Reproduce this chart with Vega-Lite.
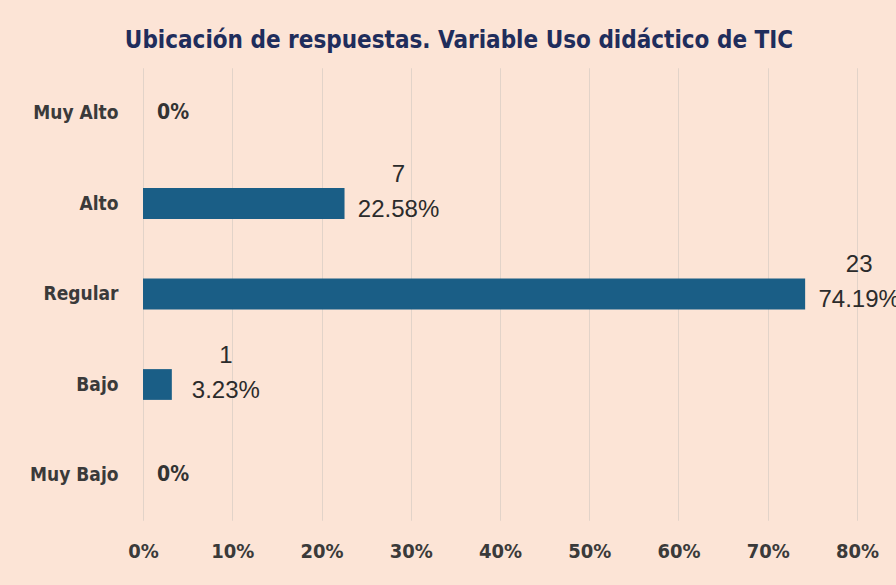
{
  "$schema": "https://vega.github.io/schema/vega-lite/v6.json",
  "autosize": {"type": "none"},
  "width": 714,
  "height": 452.5,
  "padding": {"left": 143, "top": 67.75, "right": 39, "bottom": 64.75},
  "background": "#FCE4D6",
  "title": {
    "text": "Ubicación de respuestas. Variable Uso didáctico de TIC",
    "font": "DejaVu Sans Condensed, Liberation Sans Narrow, sans-serif",
    "fontSize": 24,
    "fontWeight": "bold",
    "color": "#1F2D5C",
    "anchor": "middle",
    "baseline": "alphabetic",
    "offset": -4,
    "dx": -41
  },
  "config": {
    "view": {"stroke": null},
    "axis": {"labelFont": "DejaVu Sans Condensed, Liberation Sans Narrow, sans-serif", "labelFontWeight": "bold", "labelColor": "#3A3A3A"}
  },
  "data": {
    "values": [
      {"nivel": "Muy Alto", "n": 0, "pct": 0},
      {"nivel": "Alto", "n": 7, "pct": 0.2258},
      {"nivel": "Regular", "n": 23, "pct": 0.7419},
      {"nivel": "Bajo", "n": 1, "pct": 0.0323},
      {"nivel": "Muy Bajo", "n": 0, "pct": 0}
    ]
  },
  "encoding": {
    "y": {
      "field": "nivel",
      "type": "nominal",
      "sort": ["Muy Alto", "Alto", "Regular", "Bajo", "Muy Bajo"],
      "scale": {"paddingInner": 0.66, "paddingOuter": 0.33},
      "axis": {"title": null, "domain": false, "ticks": false, "labelPadding": 25, "labelFontSize": 19, "grid": false}
    },
    "x": {
      "field": "pct",
      "type": "quantitative",
      "scale": {"domain": [0, 0.8], "nice": false},
      "axis": {
        "title": null,
        "format": ".0%",
        "values": [0, 0.1, 0.2, 0.3, 0.4, 0.5, 0.6, 0.7, 0.8],
        "domain": false,
        "ticks": false,
        "labelFlush": false,
        "labelPadding": 21,
        "labelFontSize": 20,
        "grid": true,
        "gridColor": "#E2D3C9",
        "gridWidth": 1
      }
    }
  },
  "layer": [
    {"mark": {"type": "bar", "color": "#1A5E86"}},
    {
      "transform": [{"filter": "datum.n > 0"}],
      "mark": {"type": "text", "align": "center", "baseline": "middle", "dx": 54, "dy": -29, "font": "Liberation Sans, Arial, sans-serif", "fontSize": 24, "color": "#2B2B2B"},
      "encoding": {"text": {"field": "n", "type": "quantitative"}}
    },
    {
      "transform": [{"filter": "datum.n > 0"}],
      "mark": {"type": "text", "align": "center", "baseline": "middle", "dx": 54, "dy": 6, "font": "Liberation Sans, Arial, sans-serif", "fontSize": 24, "color": "#2B2B2B"},
      "encoding": {"text": {"field": "pct", "type": "quantitative", "format": ".2%"}}
    },
    {
      "transform": [{"filter": "datum.n == 0"}],
      "mark": {"type": "text", "align": "left", "baseline": "middle", "dx": 14, "font": "DejaVu Sans Condensed, Liberation Sans Narrow, sans-serif", "fontWeight": "bold", "fontSize": 21, "color": "#333333"},
      "encoding": {"text": {"field": "pct", "type": "quantitative", "format": ".0%"}}
    }
  ]
}
